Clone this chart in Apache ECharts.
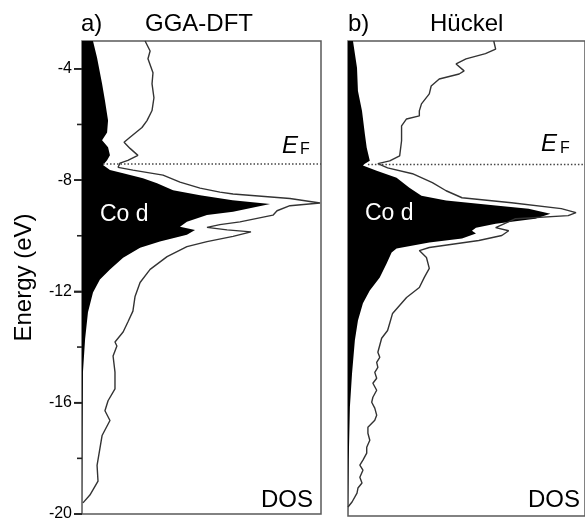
<!DOCTYPE html>
<html><head><meta charset="utf-8">
<script src="https://cdn.jsdelivr.net/npm/echarts@6/dist/echarts.min.js"></script>
<style>html,body{margin:0;padding:0;background:#fff}#c{width:585px;height:522px}</style>
</head><body><div id="c"></div>
<script>
// [DOS (arb. units, 0-100), Energy (eV)]
const ggaTotal = [[26.4,-3.0],[28.5,-3.36],[27.6,-3.64],[29.7,-4.14],[29.3,-4.54],[30.1,-5.04],[29.3,-5.5],[27.2,-5.86],[25.1,-6.11],[20.1,-6.46],[17.6,-6.64],[20.1,-6.86],[23.4,-7.11],[19.2,-7.29],[15.9,-7.39],[15.1,-7.54],[21.3,-7.64],[33.9,-7.82],[41.0,-8.07],[49.4,-8.29],[57.7,-8.43],[63.2,-8.5],[87.0,-8.66],[99.6,-8.82],[87.0,-8.92],[81.6,-9.1],[79.9,-9.26],[66.1,-9.5],[57.7,-9.6],[52.3,-9.7],[60.7,-9.79],[70.7,-9.86],[63.2,-10.02],[52.3,-10.21],[43.9,-10.39],[35.6,-10.75],[28.5,-11.21],[24.3,-11.68],[22.2,-12.18],[21.3,-12.71],[19.2,-13.1],[17.2,-13.46],[13.8,-13.82],[14.6,-13.96],[13.0,-14.32],[13.8,-14.9],[13.8,-15.5],[10.9,-15.93],[9.6,-16.29],[11.7,-16.64],[8.4,-17.18],[7.5,-17.64],[6.3,-18.25],[6.7,-18.82],[3.3,-19.32],[0.4,-19.6]];
const ggaCoD = [[4.6,-3.0],[6.3,-3.6],[8.4,-4.54],[9.6,-5.14],[10.9,-5.86],[10.5,-6.29],[8.4,-6.57],[10.9,-6.82],[11.7,-7.11],[10.5,-7.29],[8.8,-7.46],[11.7,-7.64],[17.2,-7.75],[25.5,-7.93],[31.4,-8.11],[38.1,-8.36],[49.4,-8.54],[63.0,-8.72],[78.7,-8.86],[63.2,-9.14],[52.3,-9.25],[43.9,-9.5],[41.0,-9.68],[47.3,-9.79],[43.9,-9.96],[32.6,-10.21],[24.3,-10.43],[17.2,-10.79],[11.7,-11.21],[7.5,-11.57],[4.6,-12.04],[2.5,-12.75],[1.3,-13.71],[0.4,-14.9],[0.2,-17.0],[0,-20]];
const huckelTotal = [[61.5,-3.0],[62.3,-3.29],[58.0,-3.45],[49.8,-3.64],[45.6,-3.82],[49.0,-4.07],[46.9,-4.18],[38.5,-4.36],[35.1,-4.61],[34.3,-4.89],[31.0,-5.25],[30.1,-5.5],[30.1,-5.68],[24.7,-5.79],[22.6,-6.04],[22.6,-6.57],[21.8,-7.11],[17.6,-7.29],[12.6,-7.39],[16.7,-7.54],[27.2,-7.75],[35.6,-8.07],[41.4,-8.36],[48.1,-8.61],[69.0,-8.79],[90.0,-9.0],[96.2,-9.14],[92.9,-9.25],[70.7,-9.36],[62.3,-9.68],[67.8,-9.79],[64.9,-9.96],[55.2,-10.14],[34.3,-10.39],[30.1,-10.5],[33.1,-10.75],[34.3,-11.14],[32.2,-11.46],[30.1,-11.82],[24.7,-12.18],[18.8,-12.75],[17.6,-13.1],[16.7,-13.36],[14.2,-13.64],[13.4,-13.89],[12.6,-14.14],[13.4,-14.32],[12.1,-14.5],[12.6,-14.68],[11.3,-14.86],[12.1,-15.07],[10.5,-15.25],[12.1,-15.5],[10.5,-15.75],[10.0,-15.93],[11.3,-16.14],[12.1,-16.39],[11.3,-16.57],[8.4,-16.82],[8.4,-17.04],[9.2,-17.29],[7.9,-17.54],[7.9,-17.75],[6.3,-18.0],[5.0,-18.18],[6.3,-18.36],[5.0,-18.61],[5.9,-18.82],[4.2,-19.0],[3.8,-19.18],[1.7,-19.5],[0,-19.68]];
const huckelCoD = [[2.1,-3.0],[3.8,-3.96],[4.2,-4.79],[5.9,-5.5],[7.1,-6.32],[7.9,-6.82],[9.2,-7.29],[7.1,-7.39],[6.3,-7.46],[12.1,-7.64],[20.5,-7.89],[25.9,-8.25],[31.0,-8.54],[41.4,-8.71],[62.3,-8.89],[76.2,-9.0],[85.4,-9.18],[79.0,-9.36],[62.3,-9.54],[54.0,-9.68],[52.3,-9.79],[54.0,-9.89],[48.1,-10.07],[34.3,-10.21],[20.5,-10.43],[18.4,-10.57],[16.3,-10.96],[13.4,-11.46],[9.2,-11.93],[6.3,-12.39],[4.2,-13.0],[2.9,-13.71],[1.7,-14.9],[0.8,-16.1],[0.3,-18.0],[0,-20]];

const yTickLabels = [-20, -16, -12, -8, -4];
const yMinorTicks = [-18, -14, -10, -6];
const energyRange = [-20, -3];
const dosRange = [0, 100];
const fermiEnergy = -7.42;
const fermiStartDos = [8.8, 8.4];
const panelTitles = ['a)', 'b)'];
const methodNames = ['GGA-DFT', 'Hückel'];

const FONT = '"Liberation Sans", Arial, Helvetica, sans-serif';
const chart = echarts.init(document.getElementById('c'));

function fillSeries(data, gi, yi) {
  return {
    type: 'custom', xAxisIndex: gi, yAxisIndex: yi, data: data, silent: true, z: 2,
    renderItem: function (params, api) {
      if (params.dataIndex !== 0) return null;
      const pts = data.map(function (p) { return api.coord(p); });
      pts.push(api.coord([dosRange[0], energyRange[0]]));
      pts.push(api.coord([dosRange[0], energyRange[1]]));
      return { type: 'polygon', shape: { points: pts }, style: { fill: '#000' } };
    }
  };
}
function lineSeries(data, gi, yi) {
  return { type: 'line', xAxisIndex: gi, yAxisIndex: yi, data: data, showSymbol: false, symbol: 'none',
    silent: true, z: 3, lineStyle: { color: '#333', width: 1.4 } };
}
function fermiSeries(gi, yi) {
  return { type: 'line', xAxisIndex: gi, yAxisIndex: yi, showSymbol: false, symbol: 'none', silent: true, z: 4,
    data: [[fermiStartDos[gi], fermiEnergy], [dosRange[1], fermiEnergy]],
    lineStyle: { color: '#444', width: 1.3, type: [1.5, 2] } };
}
function txt(text, x, y, size, styleExtra) {
  return { type: 'text', z: 10, silent: true,
    style: Object.assign({ text: text, x: x, y: y, font: size + 'px ' + FONT, fill: '#000',
      textAlign: 'left', textVerticalAlign: 'middle' }, styleExtra || {}) };
}

const gridBox = { top: 41, width: 239, height: 475, show: true, borderColor: '#5a5a5a', borderWidth: 1.5, backgroundColor: 'transparent' };

chart.setOption({
  animation: false,
  backgroundColor: '#fff',
  grid: [Object.assign({ left: 82 }, gridBox), Object.assign({ left: 348 }, gridBox)],
  xAxis: [0, 1].map(function (i) {
    return { type: 'value', gridIndex: i, min: dosRange[0], max: dosRange[1], show: false };
  }),
  yAxis: [
    { type: 'value', gridIndex: 0, position: 'left', min: energyRange[0], max: energyRange[1],
      axisLine: { show: false }, splitLine: { show: false },
      axisTick: { show: true, inside: false, length: 8, customValues: yTickLabels, lineStyle: { color: '#222', width: 1.6 } },
      axisLabel: { show: true, customValues: yTickLabels, fontSize: 16, color: '#000', margin: 10, fontFamily: FONT },
      name: 'Energy (eV)', nameLocation: 'middle', nameGap: 46,
      nameTextStyle: { fontSize: 24, color: '#000', fontFamily: FONT } },
    { type: 'value', gridIndex: 1, min: energyRange[0], max: energyRange[1], show: false }
  ],
  series: [
    fillSeries(ggaCoD, 0, 0), lineSeries(ggaTotal, 0, 0), fermiSeries(0, 0),
    fillSeries(huckelCoD, 1, 1), lineSeries(huckelTotal, 1, 1), fermiSeries(1, 1)
  ],
  graphic: [
    txt(panelTitles[0], 81, 24, 24), txt(methodNames[0], 145, 24, 24),
    txt(panelTitles[1], 348, 24, 24), txt(methodNames[1], 430, 24, 24),
    txt('Co d', 100, 215, 23, { fill: '#fff' }), txt('Co d', 365, 214, 23, { fill: '#fff' }),
    txt('DOS', 313, 500, 24, { textAlign: 'right' }), txt('DOS', 580, 500, 24, { textAlign: 'right' }),
    txt('E', 282, 146, 24, { font: 'italic 24px ' + FONT }), txt('F', 300, 150, 16),
    txt('E', 541, 144, 24, { font: 'italic 24px ' + FONT }), txt('F', 560, 149, 16)
  ]
});

// tick marks on the energy axis, positioned through the chart's own scale (drawn as thin filled rects)
function tickGraphics(values, len, prefix) {
  return values.map(function (v, i) {
    const p = chart.convertToPixel({ xAxisIndex: 0, yAxisIndex: 0 }, [dosRange[0], v]);
    return { type: 'rect', id: prefix + i, z: 20, silent: true,
      shape: { x: p[0] - len, y: p[1] - 0.8, width: len, height: 1.6 },
      style: { fill: '#222' } };
  });
}
chart.setOption({ graphic: tickGraphics(yTickLabels, 8, 'maj').concat(tickGraphics(yMinorTicks, 5, 'min')) });
</script></body></html>
